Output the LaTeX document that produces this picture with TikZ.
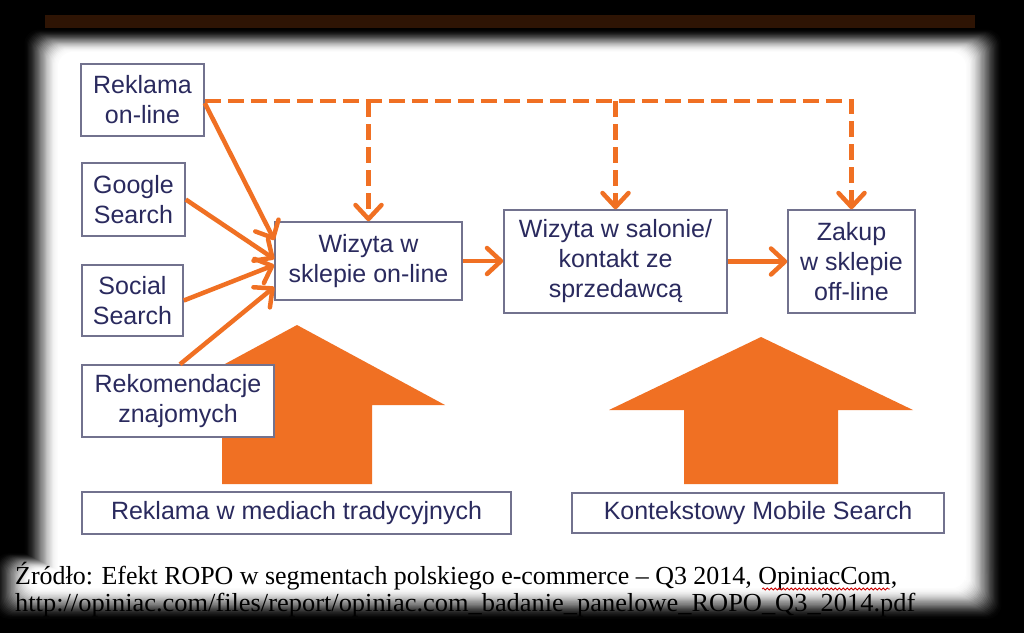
\documentclass[tikz,border=0pt]{standalone}
\usepackage{fontspec}
\setmainfont{Liberation Sans}
\newfontfamily\capfont{Liberation Serif}
\usetikzlibrary{arrows.meta,decorations.pathmorphing}
\definecolor{org}{HTML}{F07023}
\definecolor{navy}{HTML}{2A2A5E}
\definecolor{bord}{HTML}{72728E}
\definecolor{brn}{HTML}{2E1404}
\begin{document}
\begin{tikzpicture}[x=1pt,y=-1pt,
  box/.style={draw=bord, line width=1.5pt, fill=white, text=navy, align=center, inner sep=0pt, font=\fontsize{25}{30}\selectfont},
  conn/.style={draw=org, line width=4.5pt, -{Straight Barb[length=14pt,width=26pt,line cap=round,line join=round]}},
  dconn/.style={conn, dash pattern=on 16pt off 7pt},
  bigarrow/.style={fill=org}]
\useasboundingbox (0,0) rectangle (1024,633);
\fill[black] (0,0) rectangle (1024,633);
\fill[brn] (45,15) rectangle (975,28);
\foreach \i in {0,...,30}{
  \pgfmathsetmacro\t{\i/30}
  \pgfmathsetmacro\xa{22+\t*(58-22)}
  \pgfmathsetmacro\ya{28+\t*(52-28)}
  \pgfmathsetmacro\xb{1004-\t*(1004-966)}
  \pgfmathsetmacro\yb{621-\t*(621-588)}
  \pgfmathsetmacro\ca{-8+\t*(30+8)}
  \pgfmathsetmacro\cb{552+\t*(570-552)}
  \pgfmathtruncatemacro\pc{100*(3*\t^2-2*\t^3)}
  \fill[white!\pc!black, rounded corners=14pt] (\xa,\ya) rectangle (\xb,\yb);
  \fill[white!\pc!black, rounded corners=14pt] (\ca,\cb) rectangle (\xb,\yb);
}
% big arrows
\fill[bigarrow] (297,325) -- (445,405) -- (372,405) -- (372,484) -- (222,484) -- (222,405) -- (149,405) -- cycle;
\fill[bigarrow] (761,337) -- (913,410) -- (838,410) -- (838,484) -- (684,484) -- (684,410) -- (609,410) -- cycle;
% boxes
\node[box, minimum width=123pt, minimum height=72pt] (rek) at (142.5,100) {Reklama\\on-line};
\node[box, minimum width=103pt, minimum height=73pt] (goo) at (133.5,199.5) {Google\\Search};
\node[box, minimum width=101pt, minimum height=71pt] (soc) at (132.5,300.5) {Social\\Search};
\node[box, minimum width=192pt, minimum height=72pt] (zna) at (178,401) {Rekomendacje\\znajomych};
\node[box, minimum width=187pt, minimum height=78pt] (wol) at (368.5,261) {Wizyta w\\sklepie on-line};
\node[box, minimum width=223pt, minimum height=103pt] (sal) at (615.5,261.5) {Wizyta w salonie/\\kontakt ze\\sprzedawcą};
\node[box, minimum width=127pt, minimum height=103pt] (zak) at (851.5,261.5) {Zakup\\w sklepie\\off-line};
\node[box, minimum width=429pt, minimum height=42pt] (med) at (296.5,513) {Reklama w mediach tradycyjnych};
\node[box, minimum width=372pt, minimum height=40pt] (mob) at (758,513) {Kontekstowy Mobile Search};
% solid connectors
\draw[conn] ([yshift=-3pt]rek.east) -- ([yshift=21pt]wol.west);
\draw[conn] (goo.east) -- ([yshift=2pt]wol.west);
\draw[conn] (soc.east) -- ([yshift=-4pt]wol.west);
\draw[conn] ([xshift=2pt]zna.north) -- ([yshift=-26pt]wol.west);
\draw[conn] (wol.east) -- (wol.east -| sal.west);
\draw[conn] (sal.east) -- (sal.east -| zak.west);
% dashed connectors
\draw[dconn] ([yshift=-1pt]rek.east) -| (zak.north);
\draw[dconn] ([yshift=-1pt]rek.east -| wol.north) -- (wol.north);
\draw[dconn] ([yshift=-1pt]rek.east -| sal.north) -- (sal.north);
% caption
\node[anchor=base west, inner sep=0pt, text=black] (src1) at (15,584)
  {\resizebox{882pt}{\height}{\capfont\fontsize{26}{30}\selectfont Źródło: Efekt ROPO w segmentach polskiego e-commerce – Q3 2014, OpiniacCom,}};
\node[anchor=base west, inner sep=0pt, text=black] (src2) at (15,611)
  {\resizebox{900pt}{\height}{\capfont\fontsize{26}{30}\selectfont http://opiniac.com/files/report/opiniac.com\_badanie\_panelowe\_ROPO\_Q3\_2014.pdf}};
\draw[red!80!black, line width=0.8pt, decorate, decoration={snake, amplitude=1pt, segment length=4pt}] (762,589) -- (890,589);
\end{tikzpicture}
\end{document}
